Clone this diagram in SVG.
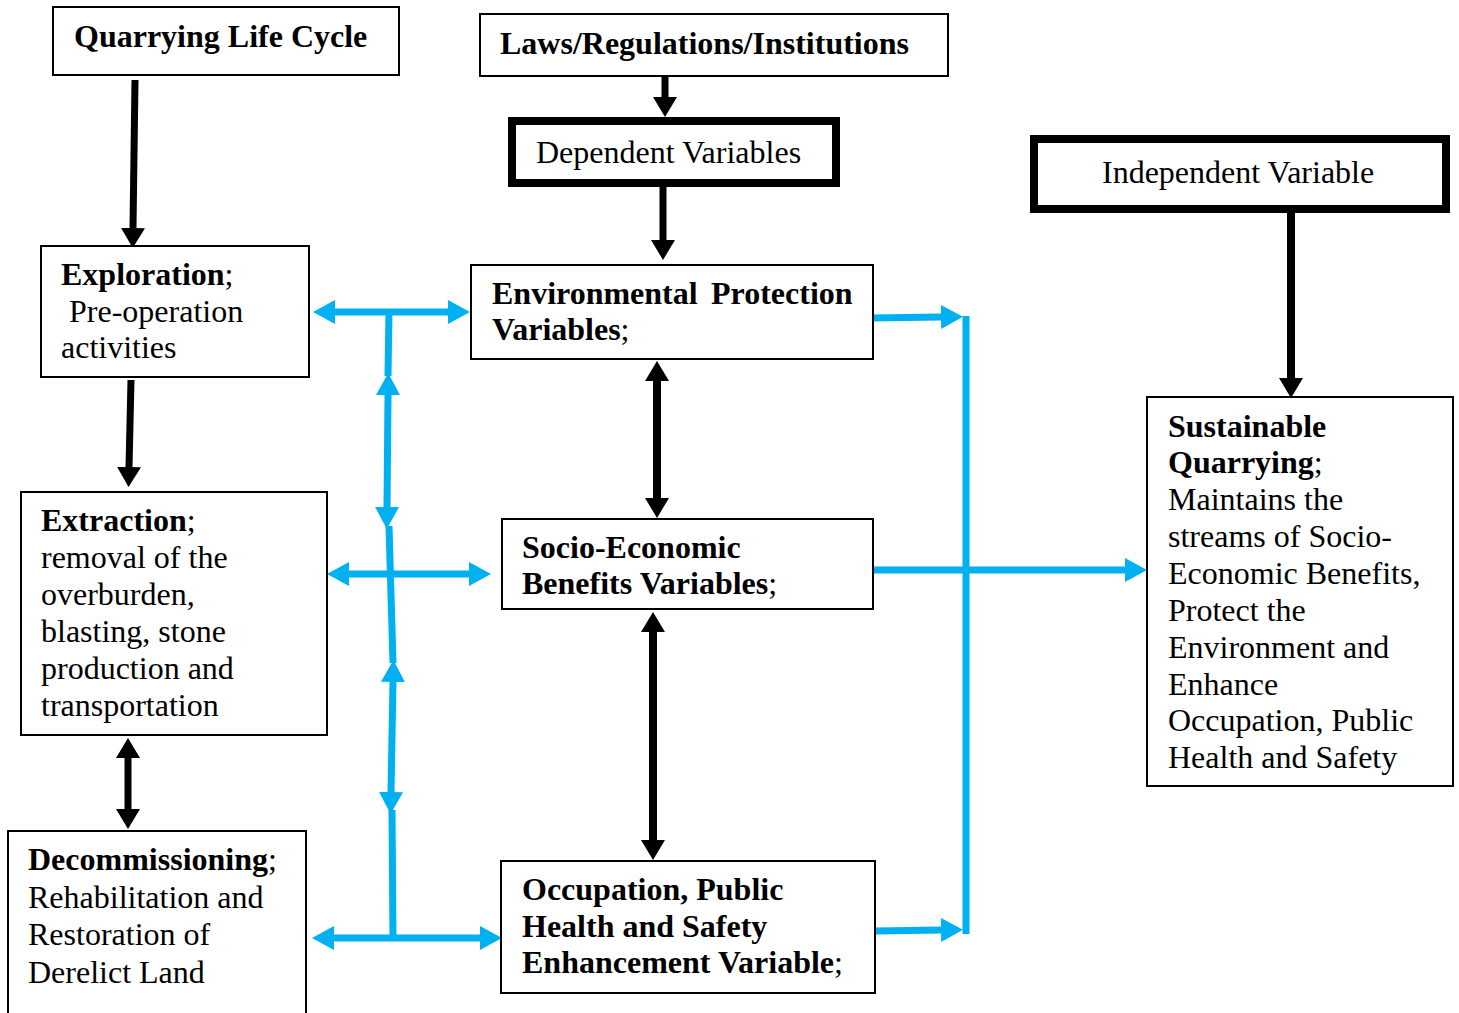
<svg xmlns="http://www.w3.org/2000/svg" width="1459" height="1013" viewBox="0 0 1459 1013">
<style>
.box{fill:#fff;stroke:#000;stroke-width:2}
.thick{fill:#fff;stroke:#000;stroke-width:8}
.t{font-family:"Liberation Serif","Times New Roman",serif;font-size:32px;fill:#000}
.b{font-weight:bold}
.blk{stroke:#000;stroke-width:7;fill:none}
.blu{stroke:#00B0F0;stroke-width:7;fill:none}
</style>
<defs>
<marker id="ak" markerUnits="userSpaceOnUse" markerWidth="22" markerHeight="26" refX="0" refY="12" orient="auto-start-reverse" viewBox="0 0 22 24">
<path d="M0,0 L20,12 L0,24 z" fill="#000"/>
</marker>
<marker id="ab" markerUnits="userSpaceOnUse" markerWidth="24" markerHeight="26" refX="0" refY="12" orient="auto-start-reverse" viewBox="0 0 24 24">
<path d="M0,0 L22,12 L0,24 z" fill="#00B0F0"/>
</marker>
</defs>

<g id="connectors">
<line class="blk" x1="135" y1="80" x2="133" y2="228" marker-end="url(#ak)"/>
<line class="blk" x1="665" y1="73" x2="665" y2="97" marker-end="url(#ak)"/>
<line class="blk" x1="663" y1="186" x2="663" y2="240" marker-end="url(#ak)"/>
<line class="blk" x1="131" y1="380" x2="129" y2="467" marker-end="url(#ak)"/>
<line class="blk" x1="128" y1="758" x2="128" y2="809" marker-start="url(#ak)" marker-end="url(#ak)"/>
<line class="blk" x1="657" y1="381" x2="657" y2="498" style="stroke-width:8" marker-start="url(#ak)" marker-end="url(#ak)"/>
<line class="blk" x1="653" y1="632" x2="653" y2="840" style="stroke-width:8" marker-start="url(#ak)" marker-end="url(#ak)"/>
<line class="blk" x1="1291" y1="212" x2="1291" y2="378" style="stroke-width:8" marker-end="url(#ak)"/>

<line class="blu" x1="335" y1="312" x2="448" y2="312" marker-start="url(#ab)" marker-end="url(#ab)"/>
<line class="blu" x1="349" y1="574" x2="469" y2="574" marker-start="url(#ab)" marker-end="url(#ab)"/>
<line class="blu" x1="334" y1="938" x2="480" y2="938" marker-start="url(#ab)" marker-end="url(#ab)"/>
<line class="blu" x1="389" y1="310" x2="388" y2="376"/>
<line class="blu" x1="388" y1="395" x2="387" y2="507" marker-start="url(#ab)" marker-end="url(#ab)"/>
<line class="blu" x1="389" y1="526" x2="393" y2="663"/>
<line class="blu" x1="393" y1="682" x2="391" y2="792" marker-start="url(#ab)" marker-end="url(#ab)"/>
<line class="blu" x1="392" y1="810" x2="393" y2="941"/>
<line class="blu" x1="873" y1="318" x2="941" y2="317" marker-end="url(#ab)"/>
<line class="blu" x1="875" y1="931" x2="941" y2="930" marker-end="url(#ab)"/>
<line class="blu" x1="873" y1="570" x2="1125" y2="570" marker-end="url(#ab)"/>
<line class="blu" x1="966" y1="316" x2="966" y2="934"/>
</g>

<g id="quarrying-life-cycle">
<rect class="box" x="53" y="7" width="346" height="68"/>
<text class="t b" x="74" y="47">Quarrying Life Cycle</text>
</g>
<g id="laws">
<rect class="box" x="480" y="14" width="468" height="62"/>
<text class="t b" x="500" y="54">Laws/Regulations/Institutions</text>
</g>
<g id="dependent-variables">
<rect class="thick" x="512" y="121" width="324" height="62"/>
<text class="t" x="536" y="163">Dependent Variables</text>
</g>
<g id="independent-variable">
<rect class="thick" x="1034" y="139" width="412" height="70"/>
<text class="t" x="1102" y="183">Independent Variable</text>
</g>
<g id="exploration">
<rect class="box" x="41" y="246" width="268" height="131"/>
<text class="t" x="61" y="285"><tspan class="b">Exploration</tspan>;</text>
<text class="t" x="69" y="322">Pre-operation</text>
<text class="t" x="61" y="358">activities</text>
</g>
<g id="extraction">
<rect class="box" x="21" y="492" width="306" height="243"/>
<text class="t" x="41" y="531"><tspan class="b">Extraction</tspan>;</text>
<text class="t" x="41" y="568">removal of the</text>
<text class="t" x="41" y="605">overburden,</text>
<text class="t" x="41" y="642">blasting, stone</text>
<text class="t" x="41" y="679">production and</text>
<text class="t" x="41" y="716">transportation</text>
</g>
<g id="decommissioning">
<rect class="box" x="8" y="831" width="298" height="200"/>
<text class="t" x="28" y="870"><tspan class="b">Decommissioning</tspan>;</text>
<text class="t" x="28" y="908">Rehabilitation and</text>
<text class="t" x="28" y="945">Restoration of</text>
<text class="t" x="28" y="983">Derelict Land</text>
</g>
<g id="environmental-protection">
<rect class="box" x="471" y="265" width="402" height="94"/>
<text class="t b" x="492" y="304">Environmental</text>
<text class="t b" x="711" y="304">Protection</text>
<text class="t" x="492" y="340"><tspan class="b">Variables</tspan>;</text>
</g>
<g id="socio-economic">
<rect class="box" x="502" y="519" width="371" height="90"/>
<text class="t b" x="522" y="558">Socio-Economic</text>
<text class="t" x="522" y="594"><tspan class="b">Benefits Variables</tspan>;</text>
</g>
<g id="occupation">
<rect class="box" x="501" y="861" width="374" height="132"/>
<text class="t b" x="522" y="900">Occupation, Public</text>
<text class="t b" x="522" y="937">Health and Safety</text>
<text class="t" x="522" y="973"><tspan class="b">Enhancement Variable</tspan>;</text>
</g>
<g id="sustainable-quarrying">
<rect class="box" x="1147" y="397" width="306" height="389"/>
<text class="t b" x="1168" y="437">Sustainable</text>
<text class="t" x="1168" y="473"><tspan class="b">Quarrying</tspan>;</text>
<text class="t" x="1168" y="510">Maintains the</text>
<text class="t" x="1168" y="547">streams of Socio-</text>
<text class="t" x="1168" y="584">Economic Benefits,</text>
<text class="t" x="1168" y="621">Protect the</text>
<text class="t" x="1168" y="658">Environment and</text>
<text class="t" x="1168" y="695">Enhance</text>
<text class="t" x="1168" y="731">Occupation, Public</text>
<text class="t" x="1168" y="768">Health and Safety</text>
</g>
</svg>
